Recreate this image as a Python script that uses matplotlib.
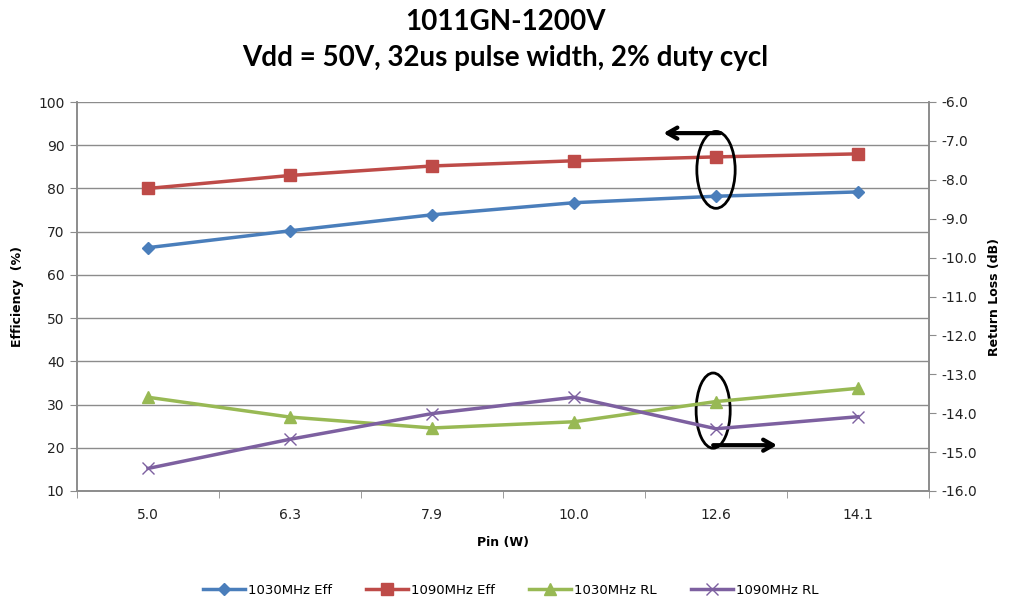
import numpy as np
import matplotlib.pyplot as plt
from matplotlib.patches import Ellipse

pin_labels = ["5.0", "6.3", "7.9", "10.0", "12.6", "14.1"]
eff_1030 = [66.3, 70.2, 73.9, 76.7, 78.2, 79.2]
eff_1090 = [80.0, 83.0, 85.2, 86.4, 87.3, 88.0]
rl_1030 = [-13.59, -14.10, -14.38, -14.22, -13.70, -13.36]
rl_1090 = [-15.42, -14.67, -14.01, -13.59, -14.40, -14.09]

blue, red, green, purple = "#4A7EBB", "#BE4B48", "#98B954", "#7D60A0"
grid_c = "#8C8C8C"
tick_font = "DejaVu Sans"

fig = plt.figure(figsize=(10.11, 6), dpi=100)
ax = fig.add_axes([77 / 1011, 1 - 491 / 600, 852 / 1011, 389 / 600])
ax2 = ax.twinx()

x = np.arange(len(pin_labels))

ax.plot(x, eff_1030, color=blue, lw=2.5, marker="D", ms=6, label="1030MHz Eff", zorder=3)
ax.plot(x, eff_1090, color=red, lw=2.5, marker="s", ms=8, label="1090MHz Eff", zorder=3)
ax2.plot(x, rl_1030, color=green, lw=2.5, marker="^", ms=8, label="1030MHz RL", zorder=3)
ax2.plot(x, rl_1090, color=purple, lw=2.5, marker="x", ms=9, mew=1, label="1090MHz RL", zorder=3)

ax.set_xlim(-0.5, len(pin_labels) - 0.5)
ax.set_ylim(10, 100)
ax.set_yticks(range(10, 101, 10))
ax2.set_ylim(-16, -6)
ax2.set_yticks(np.arange(-16, -5.9, 1.0))
ax2.set_yticklabels([f"{v:.1f}" for v in np.arange(-16, -5.9, 1.0)])

ax.set_xticks(x)
ax.set_xticklabels(pin_labels)
ax.set_xticks(np.arange(-0.5, len(pin_labels)), minor=True)
ax.tick_params(axis="x", which="major", length=0, pad=12, labelsize=10)
ax.tick_params(axis="x", which="minor", length=5, color=grid_c, direction="out")
ax.tick_params(axis="y", length=5, color=grid_c, labelsize=10, pad=4)
ax2.tick_params(axis="y", length=5, color=grid_c, labelsize=10, pad=4)

ax.grid(axis="y", color=grid_c, lw=1)
ax.set_axisbelow(True)
for a in (ax, ax2):
    a.spines["top"].set_visible(False)
    for s in ("left", "right", "bottom"):
        a.spines[s].set_color(grid_c)
        a.spines[s].set_linewidth(1.2)
    for lab in a.get_xticklabels() + a.get_yticklabels():
        lab.set_fontfamily(tick_font)
        lab.set_color("#222222")

ax.set_xlabel("Pin (W)", fontsize=9, fontweight="bold", labelpad=10)
ax.set_ylabel("Efficiency  (%)", fontsize=9, fontweight="bold", labelpad=10)
ax2.set_ylabel("Return Loss (dB)", fontsize=9, fontweight="bold", labelpad=8)

fig.text(0.5, 1 - 22 / 600, "1011GN-1200V", ha="center", va="center",
         fontsize=20, fontweight="bold", family="Lato")
fig.text(0.5, 1 - 58 / 600, "Vdd = 50V, 32us pulse width, 2% duty cycl", ha="center",
         va="center", fontsize=20, fontweight="bold", family="Lato")

# ellipses + arrows pointing to the axis each pair belongs to
arrow = dict(arrowstyle="->,head_length=0.7,head_width=0.4", color="black",
             lw=3, shrinkA=0, shrinkB=0)
ax.add_patch(Ellipse((4.0, 84.3), 0.27, 17.8, fill=False, ec="black", lw=2, zorder=4))
ax.annotate("", xy=(3.63, 92.8), xytext=(4.03, 92.8), arrowprops=arrow, zorder=4)
ax.add_patch(Ellipse((3.98, 28.6), 0.24, 17.4, fill=False, ec="black", lw=2, zorder=4))
ax.annotate("", xy=(4.43, 20.6), xytext=(3.98, 20.6), arrowprops=arrow, zorder=4)

h1, l1 = ax.get_legend_handles_labels()
h2, l2 = ax2.get_legend_handles_labels()
fig.legend(h1 + h2, l1 + l2, loc="center", bbox_to_anchor=(0.505, 1 - 590 / 600),
           ncol=4, frameon=False, fontsize=9.5, handlelength=3.2, columnspacing=2.6,
           handletextpad=0.2)

plt.savefig("out.png", dpi=100)
